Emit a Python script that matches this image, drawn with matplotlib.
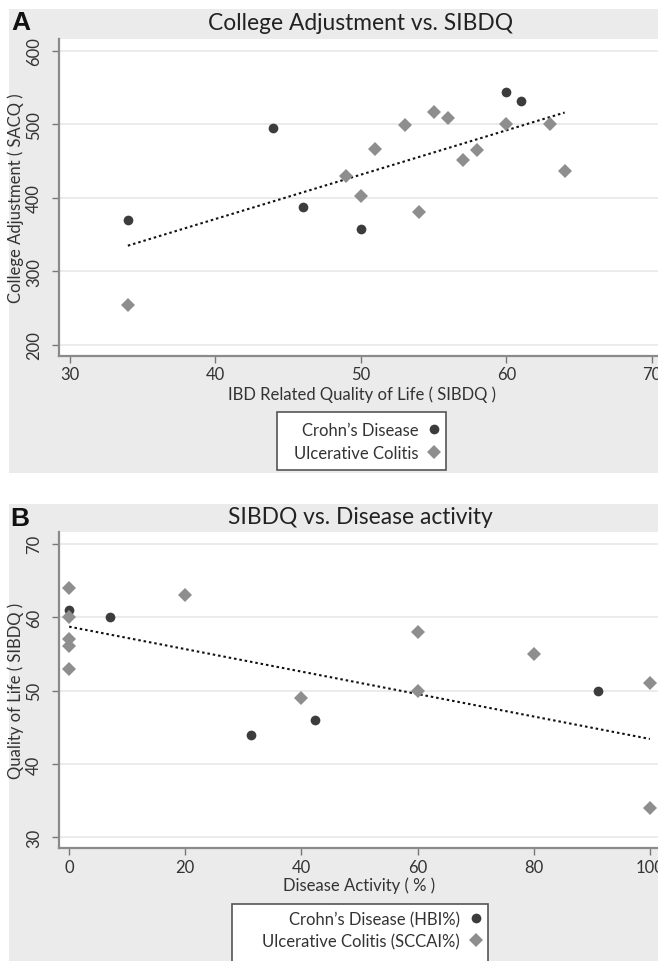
import matplotlib
matplotlib.use("Agg")
import matplotlib.pyplot as plt
from matplotlib.patches import Rectangle
from matplotlib.lines import Line2D

plt.rcParams['font.family'] = ['Lato', 'DejaVu Sans']

# ---------------- Data: Panel A ----------------
cd_sibdq = [34, 44, 46, 50, 60, 61]
cd_sacq = [370, 495, 387, 357, 544, 532]
uc_sibdq = [34, 49, 50, 51, 53, 54, 55, 56, 57, 58, 60, 63, 64]
uc_sacq = [254, 430, 403, 467, 499, 381, 517, 509, 452, 465, 500, 501, 437]
fitA_x = [34, 64]
fitA_y = [335, 516]
xticksA = [30, 40, 50, 60, 70]
yticksA = [200, 300, 400, 500, 600]

# ---------------- Data: Panel B ----------------
cd_activity = [0, 7, 31.4, 42.3, 91]
cd_qol = [61, 60, 44, 46, 50]
uc_activity = [0, 0, 0, 0, 0, 20, 40, 60, 60, 80, 100, 100]
uc_qol = [64, 60, 57, 56, 53, 63, 49, 58, 50, 55, 51, 34]
fitB_x = [0, 100]
fitB_y = [58.7, 43.4]
xticksB = [0, 20, 40, 60, 80, 100]
yticksB = [30, 40, 50, 60, 70]

W, H = 658, 962
fig = plt.figure(figsize=(W / 100, H / 100), dpi=100)
fig.patch.set_facecolor('white')

BG = '#ebebeb'
CD_COL = '#3c3c3c'
UC_COL = '#8e8e8e'
SPINE = '#8a8a8a'
GRID = '#e9e9e9'
TXT = '#333333'

def fx(px):
    return px / W

def fy(py):
    return 1 - py / H

def fig_rect(x0, y0, x1, y1, **kw):
    r = Rectangle((fx(x0), fy(y1)), fx(x1) - fx(x0), fy(y0) - fy(y1),
                  transform=fig.transFigure, **kw)
    fig.patches.append(r)
    return r

# gray panels
fig_rect(9, 10, 658, 474, facecolor=BG, edgecolor='none', zorder=-10)
fig_rect(9, 505, 658, 962, facecolor=BG, edgecolor='none', zorder=-10)


def style_axes(ax, xticks, yticks):
    ax.set_facecolor('white')
    for s in ['top', 'right']:
        ax.spines[s].set_visible(False)
    for s in ['left', 'bottom']:
        ax.spines[s].set_color(SPINE)
        ax.spines[s].set_linewidth(1.6)
    ax.set_xticks(xticks)
    ax.set_yticks(yticks)
    ax.set_yticklabels([str(t) for t in yticks], rotation=90, va='center')
    ax.tick_params(axis='both', colors='#777777', length=5, width=1.0,
                   labelcolor=TXT, labelsize=12)
    ax.tick_params(axis='y', pad=7)
    ax.tick_params(axis='x', pad=2.5)
    ax.yaxis.grid(True, color=GRID, linewidth=1.3)
    ax.set_axisbelow(True)


def boxed_legend(labels, marker_x, rows_mid_y, box, spacing):
    handles = [Line2D([], [], marker='o', linestyle='none', color=CD_COL, markersize=7, markeredgewidth=0),
               Line2D([], [], marker='D', linestyle='none', color=UC_COL, markersize=7.5, markeredgewidth=0)]
    hl = 0.8
    leg = fig.legend(handles, labels, loc='center right',
                     bbox_to_anchor=(fx(marker_x + hl * 12 / 72 * 100 / 2), fy(rows_mid_y)),
                     markerfirst=False, frameon=False, fontsize=12, handlelength=hl,
                     handletextpad=0.55, labelspacing=spacing, borderpad=0, borderaxespad=0)
    for t in leg.get_texts():
        t.set_color(TXT)
    fig_rect(*box, facecolor='white', edgecolor='#555555', linewidth=1.2, zorder=-5)
    return leg


# ---------------- Panel A ----------------
axA = fig.add_axes([fx(58.7), fy(357), 1 - fx(58.7), fy(40) - fy(357)])
style_axes(axA, xticksA, yticksA)
axA.set_xlim(29.25, 70.41)
axA.set_ylim(185, 616)
axA.plot(fitA_x, fitA_y, color='#111111', linestyle=(0, (1.2, 1.4)), linewidth=1.5, zorder=2)
axA.plot(cd_sibdq, cd_sacq, 'o', color=CD_COL, markersize=7, markeredgewidth=0, zorder=3)
axA.plot(uc_sibdq, uc_sacq, 'D', color=UC_COL, markersize=7.5, markeredgewidth=0, zorder=3)
axA.set_xlabel('IBD Related Quality of Life ( SIBDQ )', fontsize=12, color=TXT)
axA.set_ylabel('College Adjustment ( SACQ )', fontsize=12, color=TXT)
axA.xaxis.set_label_coords((361.5 - 58.7) / (658 - 58.7), -(386 - 357) / (357 - 40))
axA.yaxis.set_label_coords(-(58.7 - 24) / (658 - 58.7), 0.5)

fig.text(fx(361), fy(23), 'College Adjustment vs. SIBDQ', fontsize=16.4, color='#222222',
         ha='center', va='center')
fig.text(fx(11), fy(23), 'A', fontsize=19, fontweight='bold', color='#111111',
         ha='left', va='center', family=['Liberation Sans', 'DejaVu Sans'])

boxed_legend(["Crohn\u2019s Disease", 'Ulcerative Colitis'], 434, 442.5,
             (277, 413, 446, 471), 0.42)

# ---------------- Panel B ----------------
axB = fig.add_axes([fx(58.7), fy(849.3), 1 - fx(58.7), fy(533) - fy(849.3)])
style_axes(axB, xticksB, yticksB)
axB.set_xlim(-1.8, 101.4)
axB.set_ylim(28.5, 71.6)
axB.plot(fitB_x, fitB_y, color='#111111', linestyle=(0, (1.2, 1.4)), linewidth=1.5, zorder=2)
axB.plot(cd_activity, cd_qol, 'o', color=CD_COL, markersize=7, markeredgewidth=0, zorder=3)
axB.plot(uc_activity, uc_qol, 'D', color=UC_COL, markersize=7.5, markeredgewidth=0, zorder=3)
axB.set_xlabel('Disease Activity ( % )', fontsize=12, color=TXT)
axB.set_ylabel('Quality of Life ( SIBDQ )', fontsize=12, color=TXT)
axB.xaxis.set_label_coords((359.5 - 58.7) / (658 - 58.7), -(877 - 849.3) / (849.3 - 533))
axB.yaxis.set_label_coords(-(58.7 - 24) / (658 - 58.7), 0.5)

fig.text(fx(360), fy(517), 'SIBDQ vs. Disease activity', fontsize=16.4, color='#222222',
         ha='center', va='center')
fig.text(fx(10), fy(519), 'B', fontsize=19, fontweight='bold', color='#111111',
         ha='left', va='center', family=['Liberation Sans', 'DejaVu Sans'])

boxed_legend(["Crohn\u2019s Disease (HBI%)", 'Ulcerative Colitis (SCCAI%)'], 476, 931,
             (232, 905, 488, 968), 0.36)

fig.savefig('out.png', dpi=100, facecolor='white')
